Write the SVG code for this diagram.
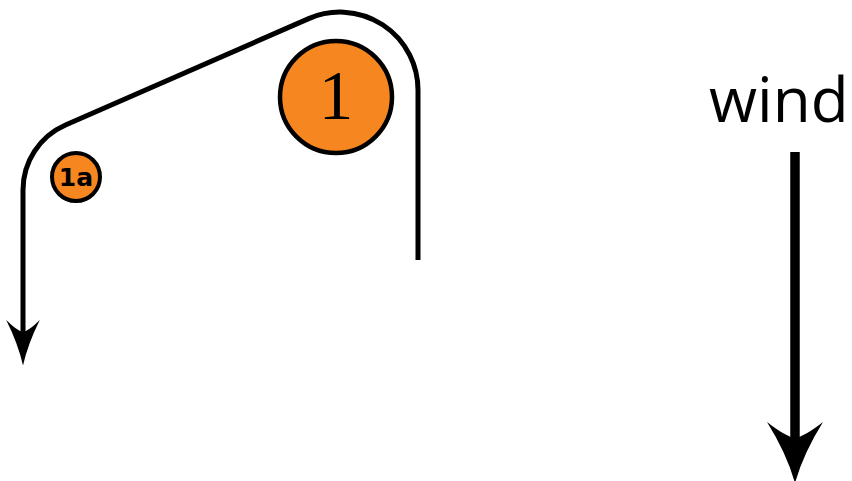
<svg xmlns="http://www.w3.org/2000/svg" width="852" height="481" viewBox="0 0 852 481">
<style>
.line{fill:none;stroke:#000;stroke-linecap:butt;stroke-linejoin:round}
.node circle{fill:#f6861f;stroke:#000}
.lbl{fill:#000;text-anchor:middle}
</style>
<defs>
<marker id="headS" markerUnits="userSpaceOnUse" orient="auto" refX="0" refY="0" markerWidth="60" markerHeight="60" viewBox="-15 -20 50 40" overflow="visible">
<path d="M28,0 Q10,-4 -10,-14 Q-1,-5 0,0 Q-1,5 -10,14 Q10,4 28,0 Z" fill="#000"/>
</marker>
<marker id="headL" markerUnits="userSpaceOnUse" orient="auto" refX="0" refY="0" markerWidth="80" markerHeight="80" viewBox="-15 -25 60 50" overflow="visible">
<path d="M34,0 Q12,-6 -12,-21 Q-1,-7 0,0 Q-1,7 -12,21 Q12,6 34,0 Z" fill="#000"/>
</marker>
</defs>
<rect width="852" height="481" fill="#fff"/>
<g id="connectors">
<path id="path-loop" class="line" stroke-width="5" d="M418,260 L418,90 A78,78 0 0 0 308.7,18.6 L65.5,125 A71,71 0 0 0 23,190 L23,332" marker-end="url(#headS)"/>
<path id="wind-arrow" class="line" stroke-width="9.5" stroke-linecap="round" d="M795,152 L795,438" marker-end="url(#headL)"/>
</g>
<g id="node-1" class="node">
<circle cx="336" cy="97" r="56" stroke-width="4.5"/>
<text class="lbl" x="336" y="119" font-family="Liberation Serif, serif" font-size="69">1</text>
</g>
<g id="node-1a" class="node">
<circle cx="76" cy="177" r="24" stroke-width="4"/>
<text class="lbl" x="76" y="186" font-family="DejaVu Sans, sans-serif" font-weight="bold" font-size="25">1a</text>
</g>
<g id="wind-label">
<text x="709" y="122" font-family="Open Sans, sans-serif" font-size="62" fill="#000">wind</text>
</g>
</svg>
